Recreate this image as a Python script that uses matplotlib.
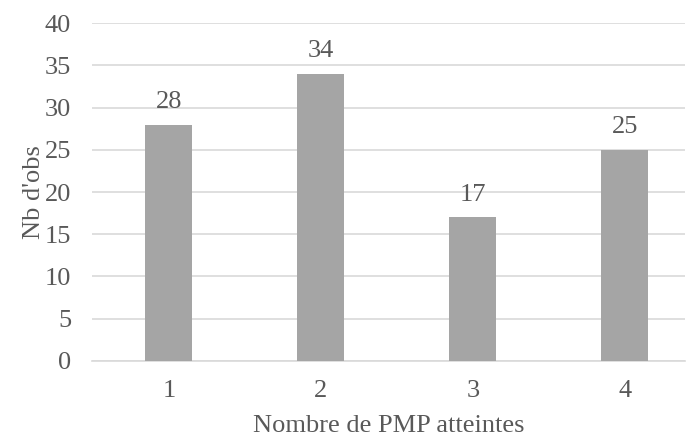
import matplotlib.pyplot as plt

# données
categories = ['1', '2', '3', '4']
nb_obs = [28, 34, 17, 25]

plt.rcParams['font.family'] = ['Liberation Serif', 'DejaVu Serif']
txt = '#595959'
fs = 19

fig = plt.figure(figsize=(6.91, 4.38), dpi=100)
ax = fig.add_axes([0.133, 0.176, 0.858, 0.771])

x = range(1, len(categories) + 1)
bars = ax.bar(x, nb_obs, width=0.31, color='#a5a5a5', zorder=3)
for xi, v in zip(x, nb_obs):
    ax.annotate(str(v), (xi, v), xytext=(0, 8.5), textcoords='offset points',
                ha='center', va='bottom', fontsize=fs, color=txt)

ax.set_ylim(0, 40)
ax.set_yticks(range(0, 41, 5))
ax.set_xlim(0.493, 4.395)
ax.set_xticks(list(x))
ax.set_xticklabels(categories)
ax.grid(axis='y', color='#d9d9d9', linewidth=1.2, zorder=0)
for s in ['top', 'right', 'left']:
    ax.spines[s].set_visible(False)
ax.spines['bottom'].set_color('#d9d9d9')
ax.spines['bottom'].set_linewidth(1.2)
ax.tick_params(length=0, labelsize=fs, colors=txt)
ax.tick_params(axis='x', pad=14)
ax.tick_params(axis='y', pad=15)

ax.set_xlabel('Nombre de PMP atteintes', fontsize=fs, color=txt, labelpad=9)
ax.set_ylabel("Nb d'obs", fontsize=fs, color=txt, labelpad=0)

fig.savefig('out.png')
